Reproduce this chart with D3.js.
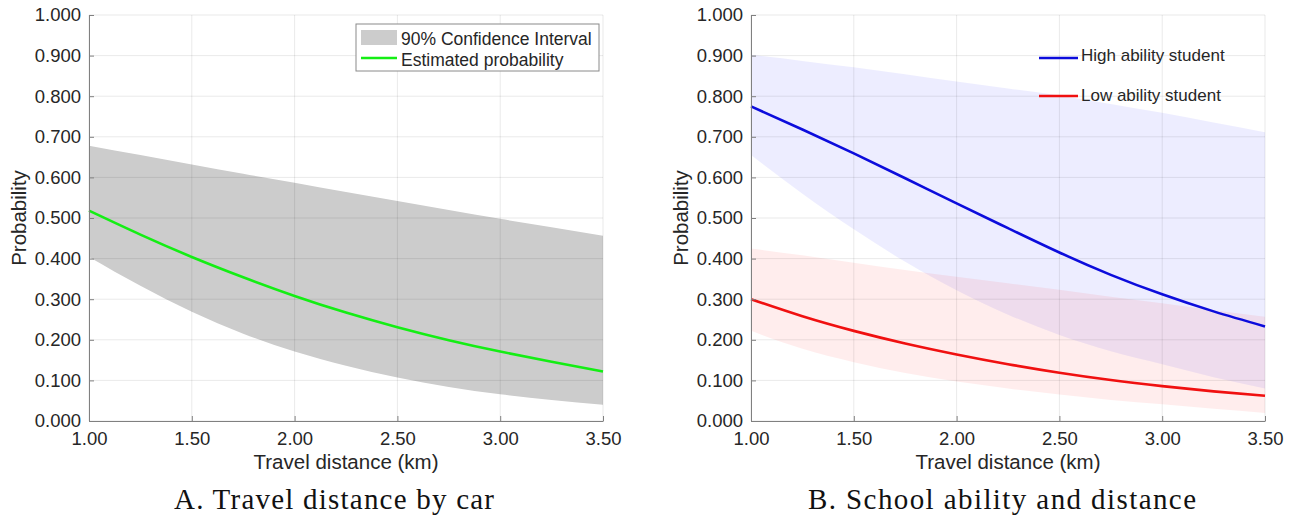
<!DOCTYPE html>
<html lang="en">
<head>
<meta charset="UTF-8">
<title>Probability by travel distance</title>
<script src="https://d3js.org/d3.v7.min.js"></script>
<style>
body { margin: 0; background: #fff; }
svg { display: block; }
.tick text { fill: #262626; }
.domain { stroke: #808080; }
.tick line { stroke: #808080; }
.grid line { stroke: rgba(0,0,0,0.085); stroke-width: 1; }
.caption { font-family: "Liberation Serif", "Times New Roman", serif; fill: #111; }
</style>
</head>
<body>
<svg width="1293" height="516"></svg>
<script>
// distance grid (km)
const distance = [1.00, 1.25, 1.50, 1.75, 2.00, 2.25, 2.50, 2.75, 3.00, 3.25, 3.50];

// panel A: travel distance by car
const carEst   = [0.518, 0.459, 0.404, 0.354, 0.308, 0.267, 0.231, 0.199, 0.171, 0.146, 0.122];
const carUpper = [0.678, 0.655, 0.632, 0.609, 0.587, 0.564, 0.542, 0.520, 0.498, 0.477, 0.456];
const carLower = [0.404, 0.333, 0.269, 0.215, 0.171, 0.136, 0.107, 0.084, 0.066, 0.052, 0.040];

// panel B: high / low ability students
const highEst   = [0.775, 0.718, 0.659, 0.598, 0.536, 0.475, 0.415, 0.360, 0.312, 0.270, 0.233];
const highUpper = [0.902, 0.887, 0.871, 0.854, 0.836, 0.819, 0.802, 0.781, 0.759, 0.735, 0.711];
const highLower = [0.655, 0.560, 0.472, 0.392, 0.322, 0.262, 0.212, 0.172, 0.140, 0.108, 0.080];
const lowEst    = [0.300, 0.258, 0.222, 0.191, 0.164, 0.140, 0.119, 0.101, 0.086, 0.073, 0.062];
const lowUpper  = [0.425, 0.408, 0.390, 0.372, 0.355, 0.339, 0.323, 0.306, 0.290, 0.273, 0.257];
const lowLower  = [0.222, 0.178, 0.145, 0.118, 0.097, 0.080, 0.065, 0.052, 0.041, 0.030, 0.020];

// tick labels
const xTicks = [1.00, 1.50, 2.00, 2.50, 3.00, 3.50];
const yTicks = [0.0, 0.1, 0.2, 0.3, 0.4, 0.5, 0.6, 0.7, 0.8, 0.9, 1.0];

const xTitle = "Travel distance (km)";
const yTitle = "Probability";
const captions = ["A. Travel distance by car", "B. School ability and distance"];

const svg = d3.select("svg");
const plotTop = 15, plotBottom = 421;
const font = '"Liberation Sans", Arial, Helvetica, sans-serif';

function panel(left, right) {
    const x = d3.scaleLinear().domain([1, 3.5]).range([left, right]);
    const y = d3.scaleLinear().domain([0, 1]).range([plotBottom, plotTop]);
    const g = svg.append("g");
    return {x, y, g};
}

function band(p, lo, hi, fill) {
    const area = d3.area()
        .x((d, i) => p.x(distance[i]))
        .y0((d, i) => p.y(lo[i]))
        .y1((d, i) => p.y(hi[i]))
        .curve(d3.curveMonotoneX);
    p.g.append("path").attr("d", area(distance)).attr("fill", fill).attr("stroke", "none");
}

function grid(p) {
    const gg = p.g.append("g").attr("class", "grid");
    gg.selectAll(".gx").data(xTicks).join("line")
        .attr("x1", d => p.x(d)).attr("x2", d => p.x(d))
        .attr("y1", plotTop).attr("y2", plotBottom);
    gg.selectAll(".gy").data(yTicks).join("line")
        .attr("y1", d => p.y(d)).attr("y2", d => p.y(d))
        .attr("x1", p.x.range()[0]).attr("x2", p.x.range()[1]);
}

function curve(p, vals, color) {
    const line = d3.line()
        .x((d, i) => p.x(distance[i]))
        .y(d => p.y(d))
        .curve(d3.curveNatural);
    p.g.append("path").attr("d", line(vals))
        .attr("fill", "none").attr("stroke", color).attr("stroke-width", 2.6);
}

function axes(p, caption, captionX, captionLen) {
    const [l, r] = p.x.range();
    p.g.append("g")
        .attr("transform", `translate(0,${plotBottom})`)
        .call(d3.axisBottom(p.x).tickValues(xTicks).tickFormat(d3.format(".2f"))
            .tickSizeInner(-5).tickSizeOuter(0).tickPadding(11))
        .call(a => a.selectAll("text").style("font-family", font).style("font-size", "18.5px"));
    p.g.append("g")
        .attr("transform", `translate(${l},0)`)
        .call(d3.axisLeft(p.y).tickValues(yTicks).tickFormat(d3.format(".3f"))
            .tickSizeInner(-5).tickSizeOuter(0).tickPadding(8))
        .call(a => a.selectAll("text").style("font-family", font).style("font-size", "18.5px"));

    p.g.append("text")
        .attr("x", (l + r) / 2).attr("y", 469)
        .attr("text-anchor", "middle")
        .style("font-family", font).style("font-size", "20.5px").attr("fill", "#262626")
        .text(xTitle);
    p.g.append("text")
        .attr("transform", `translate(${l - 63},${(plotTop + plotBottom) / 2}) rotate(-90)`)
        .attr("text-anchor", "middle")
        .style("font-family", font).style("font-size", "20.5px").attr("fill", "#262626")
        .text(yTitle);
    p.g.append("text")
        .attr("class", "caption")
        .attr("x", captionX).attr("y", 509)
        .attr("text-anchor", "middle")
        .attr("textLength", captionLen).attr("lengthAdjust", "spacing")
        .style("font-size", "29px")
        .text(caption);
}

// ---- Panel A
const a = panel(89, 603);
band(a, carLower, carUpper, "#cccccc");
grid(a);
curve(a, carEst, "#14ee14");
axes(a, captions[0], 334, 320);

// legend A
const legA = a.g.append("g").attr("transform", "translate(356,24)");
legA.append("rect").attr("width", 243).attr("height", 47)
    .attr("fill", "#fff").attr("stroke", "#8a8a8a").attr("stroke-width", 1);
legA.append("rect").attr("x", 5).attr("y", 6).attr("width", 36).attr("height", 15).attr("fill", "#cccccc");
legA.append("line").attr("x1", 5).attr("x2", 41).attr("y1", 34).attr("y2", 34)
    .attr("stroke", "#14ee14").attr("stroke-width", 2.6);
legA.append("text").attr("x", 45).attr("y", 21).text("90% Confidence Interval")
    .style("font-family", font).style("font-size", "17.5px").attr("fill", "#262626");
legA.append("text").attr("x", 45).attr("y", 42).text("Estimated probability")
    .style("font-family", font).style("font-size", "17.5px").attr("fill", "#262626");

// ---- Panel B
const b = panel(751, 1265);
band(b, highLower, highUpper, "rgba(0,0,255,0.07)");
band(b, lowLower, lowUpper, "rgba(255,0,0,0.07)");
grid(b);
curve(b, highEst, "#0c0cdc");
curve(b, lowEst, "#f01010");
axes(b, captions[1], 1002, 388);

// legend B (no box)
const legB = b.g.append("g").attr("transform", "translate(1039,0)");
const legItems = [["High ability student", "#0c0cdc", 58, 61], ["Low ability student", "#f01010", 96, 101]];
legItems.forEach(([label, color, ly, ty]) => {
    legB.append("line").attr("x1", 0).attr("x2", 39).attr("y1", ly).attr("y2", ly)
        .attr("stroke", color).attr("stroke-width", 2.6);
    legB.append("text").attr("x", 42).attr("y", ty).text(label)
        .style("font-family", font).style("font-size", "17px").attr("fill", "#262626");
});
</script>
</body>
</html>
